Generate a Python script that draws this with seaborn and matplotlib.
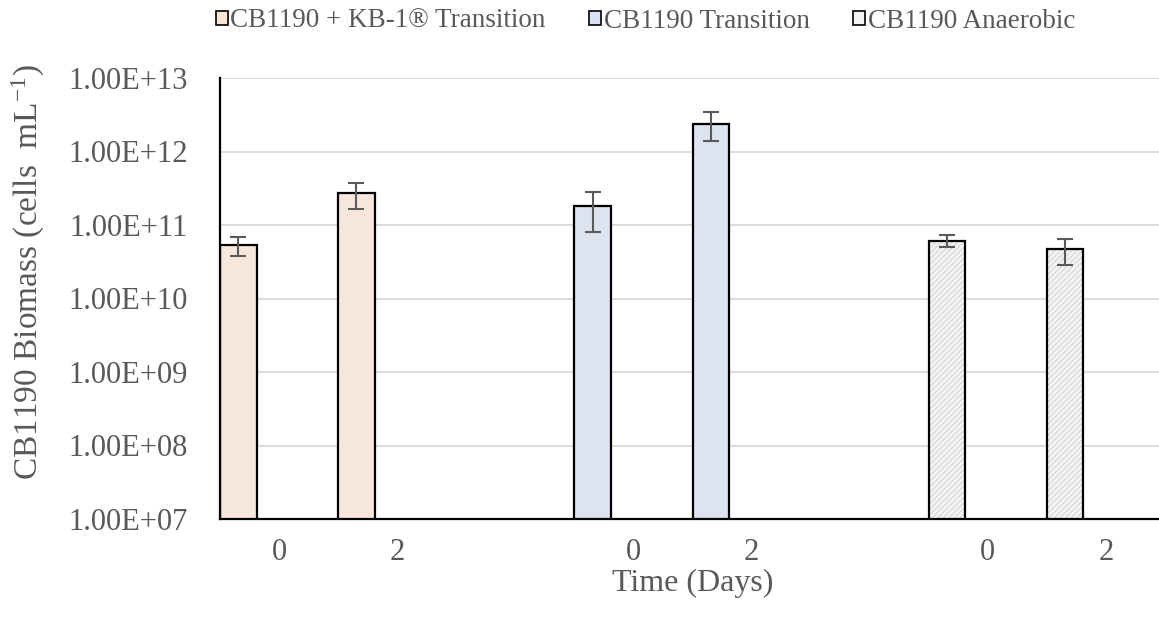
import pandas as pd
import matplotlib.pyplot as plt
from matplotlib.patches import Patch, Rectangle
import seaborn as sns

# Values (cells per mL)
groups = ['CB1190 + KB-1® Transition', 'CB1190 Transition', 'CB1190 Anaerobic']
days = ['0', '2']
means = {
    'CB1190 + KB-1® Transition': [5.3e10, 2.7e11],
    'CB1190 Transition': [1.8e11, 2.4e12],
    'CB1190 Anaerobic': [6.1e10, 4.7e10],
}
errs = {
    'CB1190 + KB-1® Transition': [1.5e10, 1.05e11],
    'CB1190 Transition': [1.0e11, 1.0e12],
    'CB1190 Anaerobic': [1.1e10, 1.8e10],
}
tick_labels = ['0', '2', '', '0', '2', '', '0', '2']
colors = {'CB1190 + KB-1® Transition': '#FBE5D6',
          'CB1190 Transition': '#DAE3F3',
          'CB1190 Anaerobic': '#F4F4F4'}

# each group takes 3 category slots (2 days + a blank one)
rows = []
for g_i, g in enumerate(groups):
    for d_i, d in enumerate(days):
        rows.append({'series': g, 'day': d, 'cat': g_i * 3 + d_i,
                     'value': means[g][d_i], 'err': errs[g][d_i]})
df = pd.DataFrame(rows)
slot_offset = 0.155   # bars sit in the left slot of each excel cluster
df['pos'] = df['cat'] + slot_offset

sns.set_style('white')
plt.rcParams['font.family'] = ['Liberation Serif', 'DejaVu Serif']
plt.rcParams['mathtext.fontset'] = 'custom'
plt.rcParams['mathtext.rm'] = 'Liberation Serif'
plt.rcParams['mathtext.it'] = 'Liberation Serif:italic'
plt.rcParams['hatch.linewidth'] = 0.8
txt = '#595959'

fig = plt.figure(figsize=(11.59, 6.23), dpi=100)
ax = fig.add_axes([220 / 1159, 104 / 623, 945 / 1159, 441 / 623])

sns.barplot(data=df, x='pos', y='value', hue='series', hue_order=groups,
            palette=colors, native_scale=True, dodge=False, width=0.31,
            errorbar=None, legend=False, ax=ax, linewidth=0)

ax.set_yscale('log')

# outlines + hatch for the anaerobic bars
for cont, g in zip(ax.containers, groups):
    for p in cont:
        if g == 'CB1190 Anaerobic':
            p.set_hatch('//////')
            p.set_edgecolor('#D4D4D4')
            p.set_linewidth(0)
        ax.add_patch(Rectangle(p.get_xy(), p.get_width(), p.get_height(),
                               fill=False, edgecolor='black', linewidth=1.6,
                               zorder=p.get_zorder() + 0.1))

ax.errorbar(df['pos'], df['value'], yerr=df['err'], fmt='none',
            ecolor='#5A5A5A', elinewidth=1.5, capsize=6, capthick=1.5, zorder=5)

ax.set_ylim(1e7, 1e13)
ax.set_yticks([10.0 ** k for k in range(7, 14)])
ax.set_yticklabels(['%.2E' % (10.0 ** k) for k in range(7, 14)])
ax.minorticks_off()
ax.set_xlim(0, 8)
ax.set_xticks([i + 0.5 for i in range(8)])
ax.set_xticklabels(tick_labels)

ax.yaxis.grid(True, color='#D9D9D9', linewidth=1.3)
ax.set_axisbelow(True)
for s in ['top', 'right']:
    ax.spines[s].set_visible(False)
for s in ['left', 'bottom']:
    ax.spines[s].set_color('black')
    ax.spines[s].set_linewidth(1.6)

ax.tick_params(axis='y', length=0, pad=23, labelsize=22, labelcolor=txt)
ax.tick_params(axis='x', length=0, pad=14, labelsize=22, labelcolor=txt)

ax.set_xlabel('Time (Days)', fontsize=23, color=txt, labelpad=1)
ax.set_ylabel('CB1190 Biomass (cells  mL$^{-1}$)', fontsize=24, color=txt)
ax.yaxis.set_label_coords(-0.183, 0.56)

handles = [Patch(facecolor=colors[g], edgecolor='black', linewidth=1.2)
           for g in groups]
fig.legend(handles, groups, loc='upper center', bbox_to_anchor=(0.557, 1.025),
           ncol=3, frameon=False, fontsize=19.5, labelcolor=txt,
           handlelength=0.45, handleheight=0.45, handletextpad=0.1,
           columnspacing=1.6)

fig.savefig('out.png', dpi=100)
